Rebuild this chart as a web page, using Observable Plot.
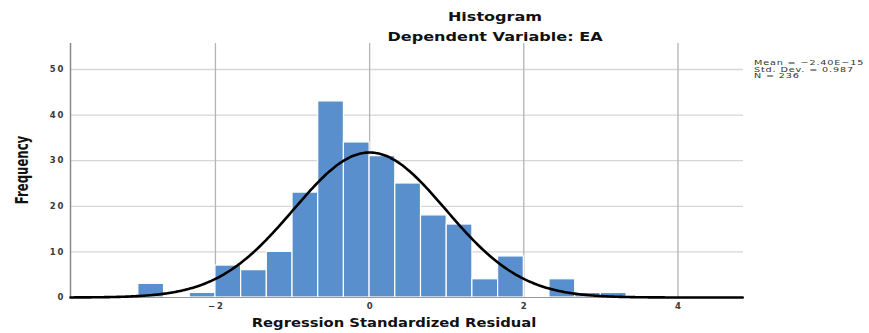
<!DOCTYPE html>
<html><head><meta charset="utf-8">
<script src="https://cdn.jsdelivr.net/npm/d3@7"></script>
<script src="https://cdn.jsdelivr.net/npm/@observablehq/plot@0.6"></script>
<style>
body{margin:0;background:#fff;}
#wrap{position:relative;width:869px;height:333px;overflow:hidden;}
#wrap g[aria-label="y-axis tick label"] text,#wrap g[aria-label="x-axis tick label"] text{letter-spacing:2px;}
</style></head><body><div id="wrap"></div>
<script>
// Histogram bins (lower edges) and frequencies
const binLow = [-3, -2.6667, -2.3333, -2, -1.6667, -1.3333, -1, -0.6667, -0.3333, 0, 0.3333, 0.6667, 1, 1.3333, 1.6667, 2, 2.3333, 2.6667, 3];
const counts = [3, 0, 1, 7, 6, 10, 23, 43, 34, 31, 25, 18, 16, 4, 9, 0, 4, 1, 1];
const binWidth = 1 / 3;
// Summary statistics shown in the chart
const statMean = -2.40e-15;
const statSD = 0.987;
const statN = 236;
const statLines = ["Mean = \u22122.40E\u221215", "Std. Dev. = 0.987", "N = 236"];
const xTicks = [-2, 0, 2, 4];
const yTicks = [0, 10, 20, 30, 40, 50];
const titleText = "Histogram";
const subtitleText = "Dependent Variable: EA";
const xLabel = "Regression Standardized Residual";
const yLabel = "Frequency";

const xDomain = [-3.88, 4.85];
const bars = binLow.map((lo, i) => ({lo, hi: lo + binWidth, n: counts[i]})).filter(d => d.n > 0);

// Fitted normal curve (SPSS overlay) from the displayed mean, SD and N
const curve = d3.range(xDomain[0], xDomain[1] + 0.001, 0.02).map(x => ({
  x,
  y: statN * binWidth / (statSD * Math.sqrt(2 * Math.PI)) * Math.exp(-0.5 * ((x - statMean) / statSD) ** 2)
}));

const plot = Plot.plot({
  width: 869, height: 333,
  marginLeft: 70, marginRight: 126, marginTop: 43, marginBottom: 36,
  style: {fontFamily: "DejaVu Sans, sans-serif", color: "#3a3a3a", background: "#fff"},
  x: {domain: xDomain, label: null},
  y: {domain: [0, 55.7], label: null},
  marks: [
    Plot.gridY(yTicks.filter(d => d > 0), {stroke: "#d6d6d6", strokeOpacity: 1, strokeWidth: 1.3}),
    Plot.gridX(xTicks, {stroke: "#b4b4b4", strokeOpacity: 1, strokeWidth: 1.3}),
    Plot.rectY(bars, {x1: "lo", x2: "hi", y: "n", fill: "#5a8fcd", stroke: "#fff", strokeWidth: 1.2}),
    Plot.ruleX([xDomain[0]], {stroke: "#888", strokeWidth: 1.5}),
    Plot.ruleY([0], {stroke: "#999", strokeWidth: 1}),
    Plot.line(curve, {x: "x", y: "y", stroke: "#000", strokeWidth: 2.6, curve: "basis"}),
    Plot.axisY(yTicks, {tickSize: 0, tickPadding: 5, fontSize: 8.5, fontWeight: "bold", label: null}),
    Plot.axisX(xTicks, {tickSize: 0, tickPadding: 5, fontSize: 8.5, fontWeight: "bold", label: null, dx: 1})
  ]
});
document.getElementById("wrap").appendChild(plot);

const svg = d3.select(plot);
function addText(txt, tr, opts) {
  const t = svg.append("text").attr("transform", tr).text(txt)
    .attr("font-family", opts.family || "DejaVu Sans, sans-serif")
    .attr("font-size", opts.size).attr("fill", opts.fill || "#111")
    .attr("font-weight", opts.weight || "normal")
    .attr("text-anchor", opts.anchor || "middle");
  if (opts.ls) t.attr("letter-spacing", opts.ls);
  return t;
}
addText(titleText, "translate(495,21) scale(1.34,1)", {size: 12, weight: "bold"});
addText(subtitleText, "translate(495,41) scale(1.34,1)", {size: 12, weight: "bold"});
addText(xLabel, "translate(394,327) scale(1.23,1)", {size: 12, weight: "bold"});
addText(yLabel, "translate(28,170) rotate(-90) scale(1,1.34)", {size: 13, weight: "bold", family: "'Liberation Sans Narrow', 'DejaVu Sans Condensed', 'Arial Narrow', sans-serif"});
statLines.forEach((s, i) => {
  addText(s, `translate(754,${65 + i * 6.5}) scale(1.42,1)`, {size: 6.8, anchor: "start", ls: "0.6px", fill: "#333"});
});
</script></body></html>
